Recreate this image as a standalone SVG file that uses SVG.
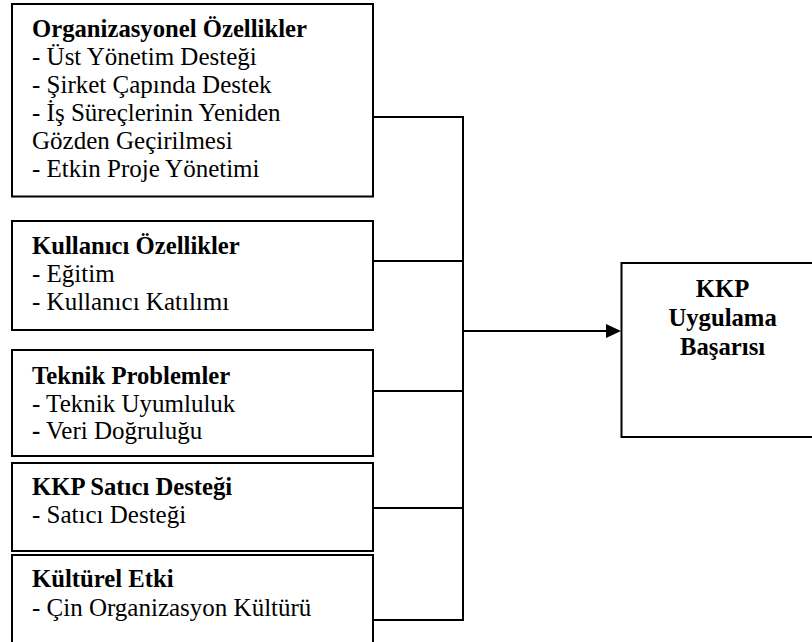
<svg xmlns="http://www.w3.org/2000/svg" width="812" height="642" viewBox="0 0 812 642">
<style>
.box{fill:#fff;stroke:#000;stroke-width:2}
.t{font-family:"Liberation Serif","Times New Roman",Times,serif;font-size:25px;fill:#000}
.b{font-weight:bold;font-size:24.7px}
.c{fill:none;stroke:#000;stroke-width:2}
</style>
<rect width="812" height="642" fill="#fff"/>
<g id="connectors">
<path class="c" d="M373 117H463M373 261H463M373 391H463M373 508H463M373 620H463M463 116V621M463 331H607"/>
<polygon points="606,324 621,331 606,338" fill="#000"/>
</g>
<g id="org">
<rect class="box" x="12" y="4" width="361" height="192.5"/>
<text class="t" x="32"><tspan class="b" y="36.7">Organizasyonel Özellikler</tspan><tspan x="32" y="64.7">- Üst Yönetim Desteği</tspan><tspan x="32" y="92.7">- Şirket Çapında Destek</tspan><tspan x="32" y="120.7">- İş Süreçlerinin Yeniden</tspan><tspan x="32" y="148.7">Gözden Geçirilmesi</tspan><tspan x="32" y="176.7">- Etkin Proje Yönetimi</tspan></text>
</g>
<g id="kullanici">
<rect class="box" x="12" y="221" width="361" height="109"/>
<text class="t" x="32"><tspan class="b" y="254">Kullanıcı Özellikler</tspan><tspan x="32" y="282">- Eğitim</tspan><tspan x="32" y="310">- Kullanıcı Katılımı</tspan></text>
</g>
<g id="teknik">
<rect class="box" x="12" y="350" width="361" height="106"/>
<text class="t" x="32"><tspan class="b" y="384">Teknik Problemler</tspan><tspan x="32" y="411.7">- Teknik Uyumluluk</tspan><tspan x="32" y="439.4"><tspan class="b">-</tspan> Veri Doğruluğu</tspan></text>
</g>
<g id="satici">
<rect class="box" x="12" y="463" width="361" height="88"/>
<text class="t" x="32"><tspan class="b" y="495">KKP Satıcı Desteği</tspan><tspan x="32" y="523">- Satıcı Desteği</tspan></text>
</g>
<g id="kultur">
<rect class="box" x="12" y="555" width="361" height="100"/>
<text class="t" x="32"><tspan class="b" y="587">Kültürel Etki</tspan><tspan x="32" y="615.5">- Çin Organizasyon Kültürü</tspan></text>
</g>
<g id="kkp">
<rect class="box" x="621.5" y="263" width="200" height="174"/>
<text class="t b" text-anchor="middle"><tspan x="722.6" y="297">KKP</tspan><tspan x="722.6" y="326">Uygulama</tspan><tspan x="722.6" y="355">Başarısı</tspan></text>
</g>
</svg>
